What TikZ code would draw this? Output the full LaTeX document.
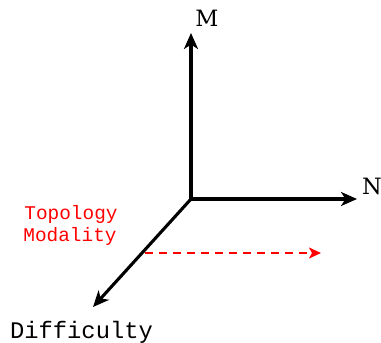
\documentclass[tikz,border=0pt]{standalone}
\usepackage{fontspec}
\newfontfamily\monofont{Liberation Mono}
\newfontfamily\axfont{DejaVu Serif}
\usetikzlibrary{arrows.meta}
\begin{document}
\begin{tikzpicture}[x=1pt,y=-1pt,
  axis/.style={line width=3.1pt,-{Stealth[length=16pt,width=14pt,inset=4.5pt]}},
  redarrow/.style={red,line width=2pt,dash pattern=on 8pt off 6pt,-{Stealth[length=12pt,width=11pt,inset=3pt]}},
  axlabel/.style={font=\axfont\fontsize{22.5}{27}\selectfont,anchor=base,inner sep=0pt},
  monolabel/.style={font=\monofont\fontsize{23.8}{28}\selectfont,anchor=base,inner sep=0pt},
  redlabel/.style={font=\monofont\fontsize{19.4}{23}\selectfont,text=red,anchor=base,inner sep=0pt}]
\useasboundingbox (0,0) rectangle (381,343);
\coordinate (O) at (191,199);
\coordinate (Mtip) at (191,33);
\coordinate (Ntip) at (357,199);
\coordinate (Dtip) at (93,307);
\coordinate (Rs) at (145,253);
\coordinate (Re) at (321,253);
\draw[axis] (O) -- (Mtip);
\draw[axis] (O) -- (Ntip);
\draw[axis] (O) -- (Dtip);
\draw[redarrow] (Rs) -- (Re);
\node[axlabel] (M) at (207,26) {M};
\node[axlabel] (N) at (372,194.5) {N};
\node[monolabel] (D) at (81.5,338) {Difficulty};
\node[redlabel] (T) at (71,219.5) {Topology};
\node[redlabel] (Mo) at (70,241.5) {Modality};
\end{tikzpicture}
\end{document}
